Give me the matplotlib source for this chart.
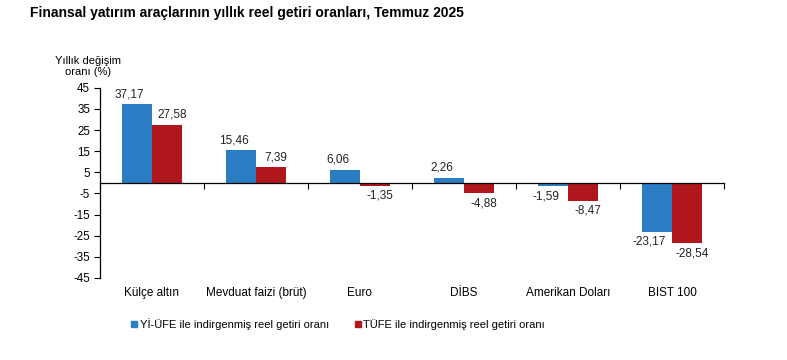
import numpy as np
from matplotlib import pyplot as plt
from matplotlib.lines import Line2D

categories = ["Külçe altın", "Mevduat faizi (brüt)", "Euro", "DİBS", "Amerikan Doları", "BIST 100"]
yi_ufe = [37.17, 15.46, 6.06, 2.26, -1.59, -23.17]
tufe = [27.58, 7.39, -1.35, -4.88, -8.47, -28.54]
series_names = ["Yİ-ÜFE ile indirgenmiş reel getiri oranı", "TÜFE ile indirgenmiş reel getiri oranı"]
yticks = [45, 35, 25, 15, 5, -5, -15, -25, -35, -45]

blue = "#2a7dc3"
red = "#b0171c"

plt.rcParams['font.family'] = ['Liberation Sans', 'DejaVu Sans']

fig = plt.figure(figsize=(7.87, 3.6), dpi=100)
ax = fig.add_axes([0.127, 0.228, 0.793, 0.528])

x = np.arange(len(categories))
w = 0.29
ax.bar(x - w / 2, yi_ufe, w, color=blue)
ax.bar(x + w / 2, tufe, w, color=red)

def fmt(v):
    return f"{v:.2f}".replace(".", ",")

for i in range(len(categories)):
    for v, dx in ((yi_ufe[i], -w / 2 - 0.07), (tufe[i], w / 2 + 0.05)):
        if v >= 0:
            ax.annotate(fmt(v), (x[i] + dx, v), xytext=(0, 3), textcoords="offset points",
                        ha="center", va="bottom", fontsize=8.5, color="#222222")
        else:
            ax.annotate(fmt(v), (x[i] + dx, v), xytext=(0, -3), textcoords="offset points",
                        ha="center", va="top", fontsize=8.5, color="#222222")

ax.set_xlim(-0.5, len(categories) - 0.5)
ax.set_ylim(-45, 45)
ax.set_yticks(yticks)
ax.set_yticklabels([str(t) for t in yticks], fontsize=8.3)
ax.tick_params(axis="y", length=4, width=0.8, pad=3)

ax.spines["top"].set_visible(False)
ax.spines["right"].set_visible(False)
ax.spines["bottom"].set_position(("data", 0))
ax.spines["bottom"].set_linewidth(0.9)
ax.spines["left"].set_linewidth(0.9)
ax.set_xticks(np.arange(len(categories) + 1) - 0.5)
ax.set_xticklabels([])
ax.tick_params(axis="x", length=4, width=0.8, direction="out")

for i, c in enumerate(categories):
    ax.text(x[i], -0.05, c, transform=ax.get_xaxis_transform(), ha="center", va="top", fontsize=8.5)

fig.text(0.038, 0.963, "Finansal yatırım araçlarının yıllık reel getiri oranları, Temmuz 2025",
         fontsize=10, fontweight="bold", ha="left", va="center")
fig.text(0.112, 0.815, "Yıllık değişim\noranı (%)", fontsize=8, ha="center", va="center", linespacing=1.1)

handles = [Line2D([], [], marker="s", linestyle="none", color=blue, markersize=4),
           Line2D([], [], marker="s", linestyle="none", color=red, markersize=4)]
fig.legend(handles, series_names, loc="center left", bbox_to_anchor=(0.152, 0.1), ncol=2,
           frameon=False, fontsize=8, handletextpad=0.1, columnspacing=2.2, handlelength=0.8)

fig.savefig("out.png", dpi=100)
